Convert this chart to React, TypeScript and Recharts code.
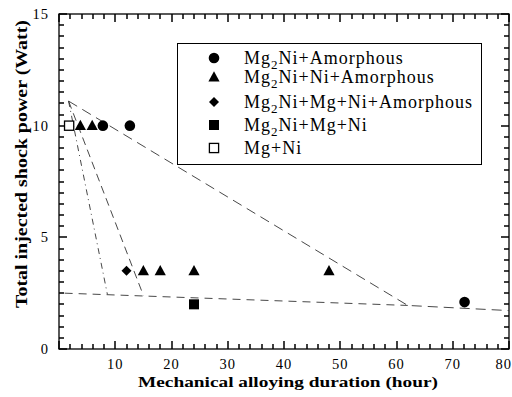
import React from 'react';
import { ScatterChart, Scatter, XAxis, YAxis, ReferenceArea } from 'recharts';

// phase markers (x: hours, y: watts)
const circleX = [7.8, 12.6, 72.1];
const circleY = [10, 10, 2.1];
const triangleX = [3.8, 5.9, 15, 18, 24, 48];
const triangleY = [10, 10, 3.5, 3.5, 3.5, 3.5];
const diamondX = [12];
const diamondY = [3.5];
const filledSquareX = [24];
const filledSquareY = [2];
const openSquareX = [1.8];
const openSquareY = [10];

// dashed guide lines
const guideLongX = [1.7, 62, 80];
const guideLongY = [11.1, 1.95, 1.72];
const guideFlatX = [1, 62];
const guideFlatY = [2.5, 1.95];
const guideSteep1X = [1.7, 8.6];
const guideSteep1Y = [11.1, 2.45];
const guideSteep2X = [1.7, 15];
const guideSteep2Y = [11.1, 2.4];

const legendLabels = [
  'Mg2Ni+Amorphous',
  'Mg2Ni+Ni+Amorphous',
  'Mg2Ni+Mg+Ni+Amorphous',
  'Mg2Ni+Mg+Ni',
  'Mg+Ni',
];
const legendKinds = ['circle', 'triangle', 'diamond', 'square', 'open'];

const X_MAX = 80;
const Y_MAX = 15;
const xLabelTicks = [0, 10, 20, 30, 40, 50, 60, 70, 80];
const yLabelTicks = [0, 5, 10, 15];
const xMinorTicks = Array.from({ length: 41 }, (_, i) => i * 2);
const yMinorTicks = Array.from({ length: 31 }, (_, i) => i * 0.5);

const FONT = '"Liberation Serif", serif';

const zip = (xs: number[], ys: number[]) => xs.map((x, i) => ({ x, y: ys[i] }));

const drawMarker = (kind: string, cx: number, cy: number) => {
  switch (kind) {
    case 'circle':
      return <circle cx={cx} cy={cy} r={5.3} fill="#000" />;
    case 'triangle':
      return (
        <polygon
          points={`${cx},${cy - 5.8} ${cx - 5.6},${cy + 4.4} ${cx + 5.6},${cy + 4.4}`}
          fill="#000"
        />
      );
    case 'diamond':
      return (
        <polygon
          points={`${cx},${cy - 5} ${cx + 5},${cy} ${cx},${cy + 5} ${cx - 5},${cy}`}
          fill="#000"
        />
      );
    case 'square':
      return <rect x={cx - 5} y={cy - 5} width={10} height={10} fill="#000" />;
    default:
      return (
        <rect x={cx - 4.6} y={cy - 4.6} width={9.2} height={9.2} fill="#fff" stroke="#000" strokeWidth={1.3} />
      );
  }
};

const markerShape = (kind: string) => (props: any) => <g>{drawMarker(kind, props.cx, props.cy)}</g>;
const noShape = () => <g />;

// plot frame with inward ticks on all four sides, laid out on the frame rect recharts computes
const FrameShape = (p: any) => {
  const { x, y, width, height } = p;
  const marks: React.ReactNode[] = [];
  xMinorTicks.forEach((v) => {
    const px = Math.round(x + (v / X_MAX) * width);
    const len = v % 10 === 0 ? 8 : 5;
    marks.push(<rect key={`b${v}`} x={px - 0.75} y={y + height - len} width={1.5} height={len} fill="#000" />);
    marks.push(<rect key={`t${v}`} x={px - 0.75} y={y} width={1.5} height={len} fill="#000" />);
  });
  yMinorTicks.forEach((v) => {
    const py = Math.round(y + height - (v / Y_MAX) * height);
    const len = v % 5 === 0 ? 8 : 5;
    marks.push(<rect key={`l${v}`} x={x} y={py - 0.75} width={len} height={1.5} fill="#000" />);
    marks.push(<rect key={`r${v}`} x={x + width - len} y={py - 0.75} width={len} height={1.5} fill="#000" />);
  });
  return (
    <g>
      <rect x={x} y={y} width={width} height={height} fill="none" stroke="#000" strokeWidth={1.3} />
      {marks}
    </g>
  );
};

const BottomLabel = ({ x, y, payload }: any) => {
  const v = payload.value;
  if (v === 0) return <g />;
  const last = v === 80;
  return (
    <text
      x={last ? x + 3 : x}
      y={y + 20}
      textAnchor={last ? 'end' : 'middle'}
      fontFamily={FONT}
      fontSize={14.5}
      letterSpacing={1}
      fill="#000"
    >
      {v}
    </text>
  );
};

const LeftLabel = ({ x, y, payload }: any) => (
  <text x={x - 10} y={y + 5} textAnchor="end" fontFamily={FONT} fontSize={14.5} letterSpacing={1} fill="#000">
    {payload.value}
  </text>
);

const renderFormula = (label: string) => {
  if (!label.startsWith('Mg2')) return label;
  return (
    <>
      Mg
      <sub style={{ fontSize: 13, verticalAlign: -5, lineHeight: 0 }}>2</sub>
      {label.slice(3)}
    </>
  );
};

const legendRowCenters = [57, 76, 101, 124, 147];

const PhaseLegend = () => (
  <div
    style={{
      position: 'absolute',
      left: 177,
      top: 43,
      width: 303,
      height: 120,
      border: '1.3px solid #000',
      background: '#fff',
      fontFamily: FONT,
      fontSize: 18,
      letterSpacing: 1,
      color: '#000',
    }}
  >
    {legendLabels.map((label, i) => {
      const top = legendRowCenters[i] - 43 - 10;
      return (
        <div key={label} style={{ position: 'absolute', left: 0, top, height: 20, width: 300 }}>
          <svg width={30} height={20} style={{ position: 'absolute', left: 21, top: 0 }}>
            {drawMarker(legendKinds[i], 15, 10)}
          </svg>
          <span style={{ position: 'absolute', left: 66, top: 0, lineHeight: '20px', whiteSpace: 'nowrap' }}>
            {renderFormula(label)}
          </span>
        </div>
      );
    })}
  </div>
);

const guideStyle = (dash: string) => ({ stroke: '#333', strokeWidth: 0.9, strokeDasharray: dash });

export default function App() {
  return (
    <div style={{ position: 'absolute', left: 0, top: 0, width: 512, height: 397, background: '#fff' }}>
      <ScatterChart width={512} height={397} margin={{ top: 14, right: 3, bottom: 0, left: 0 }}>
        <XAxis
          type="number"
          dataKey="x"
          domain={[0, X_MAX]}
          ticks={xLabelTicks}
          interval={0}
          height={48}
          tickSize={0}
          tickMargin={0}
          tickLine={false}
          axisLine={false}
          tick={<BottomLabel />}
          label={(p: any) => {
            const vb = p.viewBox;
            return (
              <text
                x={vb.x + vb.width / 2 + 4}
                y={vb.y + 38}
                textAnchor="middle"
                fontFamily={FONT}
                fontWeight="bold"
                fontSize={15.5}
                textLength={300}
                lengthAdjust="spacingAndGlyphs"
                fill="#000"
              >
                Mechanical alloying duration (hour)
              </text>
            );
          }}
        />
        <YAxis
          type="number"
          dataKey="y"
          domain={[0, Y_MAX]}
          ticks={yLabelTicks}
          interval={0}
          width={59}
          tickSize={0}
          tickMargin={0}
          tickLine={false}
          axisLine={false}
          tick={<LeftLabel />}
          label={() => (
            <text
              x={27}
              y={164}
              transform="rotate(-90 27 164)"
              textAnchor="middle"
              fontFamily={FONT}
              fontWeight="bold"
              fontSize={17}
              textLength={288}
              lengthAdjust="spacingAndGlyphs"
              fill="#000"
            >
              Total injected shock power (Watt)
            </text>
          )}
        />

        <ReferenceArea x1={0} x2={X_MAX} y1={0} y2={Y_MAX} ifOverflow="visible" shape={FrameShape} />

        <Scatter data={zip(guideLongX, guideLongY)} line={guideStyle('10 6')} shape={noShape} legendType="none" isAnimationActive={false} />
        <Scatter data={zip(guideFlatX, guideFlatY)} line={guideStyle('8 6')} shape={noShape} legendType="none" isAnimationActive={false} />
        <Scatter data={zip(guideSteep1X, guideSteep1Y)} line={guideStyle('6 4 1 4')} shape={noShape} legendType="none" isAnimationActive={false} />
        <Scatter data={zip(guideSteep2X, guideSteep2Y)} line={guideStyle('8 5')} shape={noShape} legendType="none" isAnimationActive={false} />

        <Scatter name="Mg2Ni+Amorphous" data={zip(circleX, circleY)} shape={markerShape('circle')} isAnimationActive={false} />
        <Scatter name="Mg2Ni+Ni+Amorphous" data={zip(triangleX, triangleY)} shape={markerShape('triangle')} isAnimationActive={false} />
        <Scatter name="Mg2Ni+Mg+Ni+Amorphous" data={zip(diamondX, diamondY)} shape={markerShape('diamond')} isAnimationActive={false} />
        <Scatter name="Mg2Ni+Mg+Ni" data={zip(filledSquareX, filledSquareY)} shape={markerShape('square')} isAnimationActive={false} />
        <Scatter name="Mg+Ni" data={zip(openSquareX, openSquareY)} shape={markerShape('open')} isAnimationActive={false} />
      </ScatterChart>
      <PhaseLegend />
    </div>
  );
}
